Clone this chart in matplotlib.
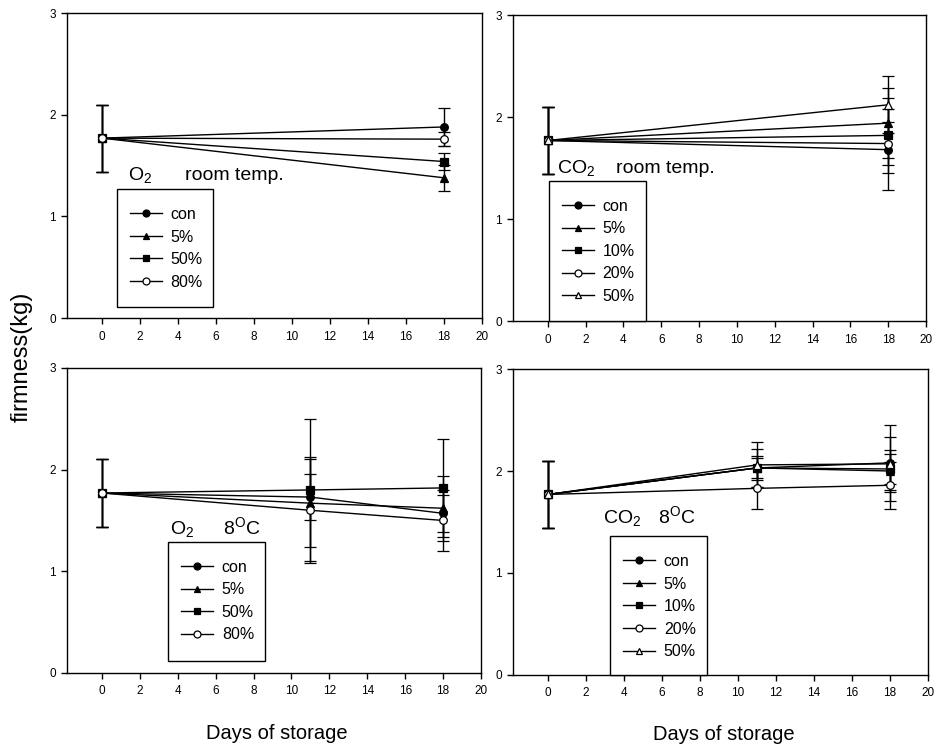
import numpy as np
import matplotlib
matplotlib.use("Agg")
import matplotlib.pyplot as plt
from matplotlib.lines import Line2D
from matplotlib.patches import Rectangle

plt.rcParams['font.family'] = ['Liberation Sans', 'DejaVu Sans']
plt.rcParams['mathtext.default'] = 'regular'

FIG_W, FIG_H = 940, 752

# firmness (kg) by days of storage
days_rt = [0, 18]
days_8c = [0, 11, 18]

o2_labels = ['con', '5%', '50%', '80%']
co2_labels = ['con', '5%', '10%', '20%', '50%']

# O2, room temperature
o2_rt_mean = [[1.77, 1.88], [1.77, 1.38], [1.77, 1.54], [1.77, 1.76]]
o2_rt_err = [[0.33, 0.19], [0.33, 0.13], [0.33, 0.08], [0.33, 0.07]]

# CO2, room temperature
co2_rt_mean = [[1.77, 1.68], [1.77, 1.94], [1.77, 1.82], [1.77, 1.74], [1.77, 2.12]]
co2_rt_err = [[0.33, 0.40], [0.33, 0.34], [0.33, 0.37], [0.33, 0.21], [0.33, 0.28]]

# O2, 8 C
o2_8c_mean = [[1.77, 1.73, 1.57], [1.77, 1.67, 1.62], [1.77, 1.80, 1.82], [1.77, 1.60, 1.50]]
o2_8c_err = [[0.33, 0.23, 0.18], [0.33, 0.43, 0.32], [0.33, 0.70, 0.48], [0.33, 0.52, 0.30]]

# CO2, 8 C
co2_8c_mean = [[1.77, 2.03, 2.08], [1.77, 2.03, 2.00], [1.77, 2.03, 2.02],
               [1.77, 1.83, 1.86], [1.77, 2.06, 2.07]]
co2_8c_err = [[0.33, 0.19, 0.37], [0.33, 0.12, 0.21], [0.33, 0.10, 0.15],
              [0.33, 0.20, 0.23], [0.33, 0.22, 0.26]]

o2_styles = [('o', 'black'), ('^', 'black'), ('s', 'black'), ('o', 'white')]
co2_styles = [('o', 'black'), ('^', 'black'), ('s', 'black'), ('o', 'white'), ('^', 'white')]


def draw_panel(ax, days, means, errs, labels, styles, gas, temp,
               title_pos, temp_x, box):
    for m, e, (mk, fc) in zip(means, errs, styles):
        ax.errorbar(days, m, yerr=e, color='black', lw=1, marker=mk, ms=5.5,
                    mfc=fc, mec='black', mew=0.9, capsize=4.5, elinewidth=1,
                    capthick=1)
    ax.set_xlim(-1.84, 20)
    ax.set_ylim(0, 3)
    ax.set_xticks(np.arange(0, 21, 2))
    ax.set_yticks([0, 1, 2, 3])
    ax.tick_params(direction='out', length=4, width=1, labelsize=8.5,
                   top=False, right=False)
    ax.tick_params(axis='x', pad=5)
    ax.tick_params(axis='y', pad=4)
    for s in ax.spines.values():
        s.set_linewidth(1)
        s.set_color('black')

    ax.text(title_pos[0], title_pos[1], gas, transform=ax.transAxes,
            fontsize=14, va='baseline', ha='left')
    ax.text(temp_x, title_pos[1], temp, transform=ax.transAxes,
            fontsize=14, va='baseline', ha='left')

    # legend frame (axes fraction) and its entries
    pos = ax.get_position()
    aw, ah = pos.width * FIG_W, pos.height * FIG_H
    left, top, w, h = box
    ax.add_patch(Rectangle((left, top - h), w, h, transform=ax.transAxes,
                           fill=True, fc='white', ec='black', lw=1,
                           zorder=4, clip_on=False))
    handles = [Line2D([], [], color='black', lw=1, marker=mk, ms=5, mfc=fc,
                      mec='black', mew=0.9) for mk, fc in styles]
    leg = ax.legend(handles, labels, loc='upper left',
                    bbox_to_anchor=(left + 13 / aw, top - 18 / ah),
                    frameon=False, fontsize=11.5, handlelength=2.0,
                    handletextpad=0.55, labelspacing=0.47, borderpad=0,
                    borderaxespad=0, numpoints=1)
    leg.set_zorder(5)
    return leg


fig = plt.figure(figsize=(FIG_W / 100, FIG_H / 100), dpi=100)

ax1 = fig.add_axes([0.0713, 0.577, 0.4415, 0.4056])
ax2 = fig.add_axes([0.5457, 0.5731, 0.4394, 0.4069])
ax3 = fig.add_axes([0.0713, 0.1051, 0.4404, 0.4056])
ax4 = fig.add_axes([0.5457, 0.1024, 0.4415, 0.4069])

draw_panel(ax1, days_rt, o2_rt_mean, o2_rt_err, o2_labels, o2_styles,
           r'$O_2$', 'room temp.', (0.147, 0.452), 0.284,
           (0.120, 0.423, 0.231, 0.387))
draw_panel(ax2, days_rt, co2_rt_mean, co2_rt_err, co2_labels, co2_styles,
           r'$CO_2$', 'room temp.', (0.107, 0.484), 0.249,
           (0.087, 0.458, 0.235, 0.458))
draw_panel(ax3, days_8c, o2_8c_mean, o2_8c_err, o2_labels, o2_styles,
           r'$O_2$', r'$8^{O}C$', (0.249, 0.456), 0.377,
           (0.244, 0.430, 0.234, 0.390))
draw_panel(ax4, days_8c, co2_8c_mean, co2_8c_err, co2_labels, co2_styles,
           r'$CO_2$', r'$8^{O}C$', (0.217, 0.497), 0.349,
           (0.234, 0.454, 0.234, 0.454))

fig.text(0.023, 0.525, 'firmness(kg)', rotation=90, fontsize=17,
         ha='center', va='center')
fig.text(0.295, 0.025, 'Days of storage', fontsize=14.5,
         ha='center', va='center')
fig.text(0.770, 0.023, 'Days of storage', fontsize=14.5,
         ha='center', va='center')

fig.savefig('out.png', dpi=100)
